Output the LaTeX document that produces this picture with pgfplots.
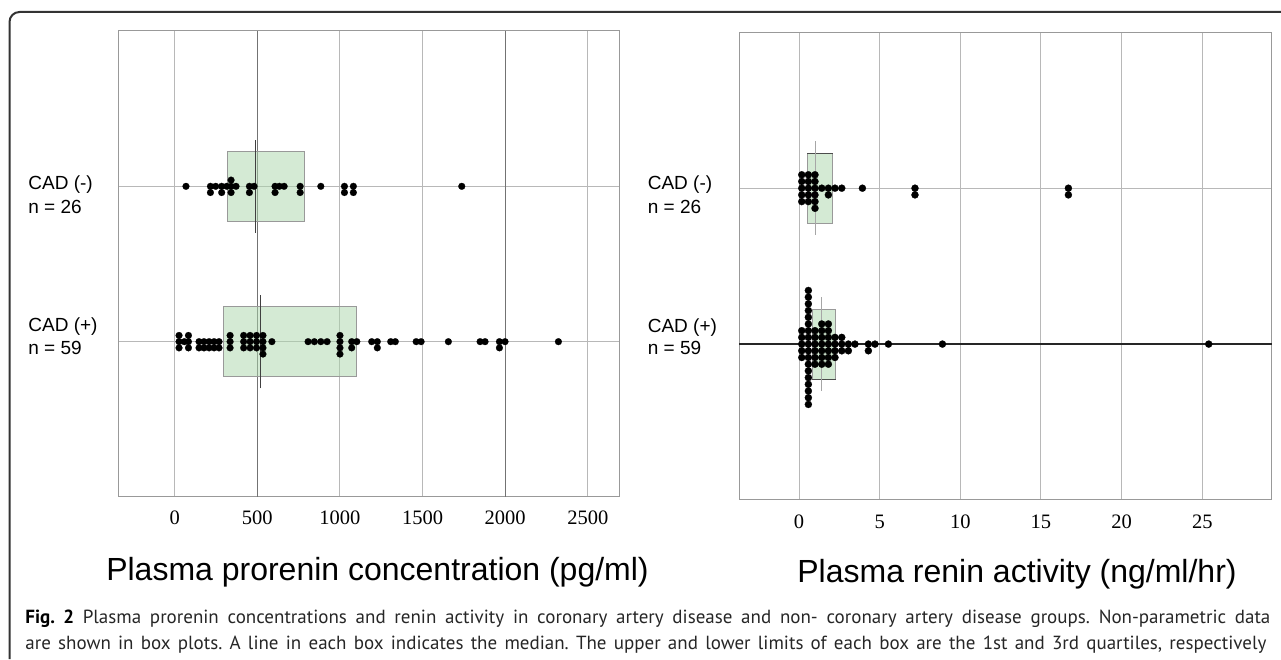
\documentclass[border=0pt]{standalone}
\usepackage{fontspec}
\setmainfont{Liberation Sans}
\newfontfamily\tickfont{Liberation Serif}
\newfontfamily\capfont{PT Sans}
\usepackage{pgfplots}
\pgfplotsset{compat=1.18}
\definecolor{boxgreen}{RGB}{169,213,169}
\pgfplotsset{
  panel/.style={
    scale only axis, ymin=0, ymax=3, ytick={1,2}, yticklabels={},
    xmajorgrids, ymajorgrids,
    grid style={black!28, line width=0.5bp},
    axis line style={black!40, line width=0.5bp},
    major tick length=0pt,
    tick style={draw=none},
    xticklabel style={font=\tickfont\fontsize{10.25bp}{12bp}\selectfont, anchor=base, text=black},
    /pgf/number format/assume math mode=true,
    /pgf/number format/1000 sep={},
    scaled x ticks=false,
    clip=false,
  },
  boxst/.style={draw=black!40, line width=0.5bp, fill=boxgreen, fill opacity=0.5},
  dots/.style={only marks, mark=*, mark size=#1, mark options={solid, fill=black, draw=black, line width=0.1bp}},
}
\frenchspacing
\begin{document}
\begin{tikzpicture}[x=0.5bp,y=0.5bp]
\path[use as bounding box] (0,0) rectangle (1281,659);

% ---------- left panel ----------
\begin{axis}[panel, at={(59.2bp,81bp)}, anchor=south west, width=250.4bp, height=233bp,
  xmin=-341, xmax=2690, xtick={0,1000,1500,2500},
  extra x ticks={500,2000}, extra x tick style={major grid style={black!55, line width=0.6bp}},
  xticklabel style={yshift=-14bp}]
\addplot[boxst] coordinates {(318,1.776) (786,1.776) (786,2.224) (318,2.224)} -- cycle;
\addplot[boxst] coordinates {(297,0.775) (1098,0.775) (1098,1.225) (297,1.225)} -- cycle;
\addplot[black!75, line width=0.6bp] coordinates {(489,1.70) (489,2.30)};
\addplot[black!75, line width=0.6bp] coordinates {(519,0.70) (519,1.30)};
% CAD (-)
\addplot[dots=1.7bp] coordinates {
(68,2)
(216,2) (216,1.96) (248,2)
(284,2) (284,1.96) (315,2) (341,2.04) (341,2) (341,1.96) (371,2)
(452,2) (452,1.96) (480,2)
(607,2) (607,1.96) (633,2) (662,2)
(759,2) (759,1.96)
(884,2)
(1027,2) (1027,1.96) (1081,2) (1081,1.96)
(1737,2)
};
% CAD (+)
\addplot[dots=1.7bp] coordinates {
(26,1.04) (26,1) (26,0.96)
(58,1)
(83,1.04) (83,1) (83,0.96)
(147,1) (147,0.96) (177,1) (177,0.96) (208,1) (208,0.96) (238,1) (238,0.96) (268,1) (268,0.96)
(335,1.04) (335,1) (335,0.96)
(417,1.04) (417,1) (417,0.96)
(456,1.04) (456,1) (456,0.96)
(495,1.04) (495,1) (495,0.96)
(534,1.04) (534,1) (534,0.96) (534,0.92)
(588,1)
(807,1) (845,1) (884,1) (922,1)
(1000,1.04) (1000,1) (1000,0.96) (1000,0.92)
(1071,1) (1071,0.96) (1102,1)
(1192,1) (1226,1) (1226,0.96)
(1307,1) (1335,1)
(1461,1) (1491,1)
(1656,1)
(1848,1) (1878,1)
(1965,1) (1965,0.96) (1999,1)
(2322,1)
};
\end{axis}

% ---------- right panel ----------
\begin{axis}[panel, at={(369.65bp,79.5bp)}, anchor=south west, width=266.15bp, height=233.85bp,
  xmin=-3.7, xmax=29.3, xtick={0,5,10,15,20,25}, ytick={2},
  extra y ticks={1}, extra y tick labels={}, extra y tick style={major grid style={black!85, line width=0.6bp}},
  xticklabel style={yshift=-14.5bp}]
\addplot[boxst] coordinates {(0.51,1.775) (2.09,1.775) (2.09,2.225) (0.51,2.225)} -- cycle;
\addplot[boxst] coordinates {(0.83,0.775) (2.27,0.775) (2.27,1.225) (0.83,1.225)} -- cycle;
\addplot[black!70, line width=0.6bp] coordinates {(0.51,2.225) (2.09,2.225)};
\addplot[black!70, line width=0.6bp] coordinates {(0.83,0.775) (2.27,0.775)};
\addplot[black!35, line width=0.5bp] coordinates {(1.03,1.70) (1.03,2.30)};
\addplot[black!35, line width=0.5bp] coordinates {(1.41,0.70) (1.41,1.30)};
% CAD (-)
\addplot[dots=1.78bp] coordinates {
(0.17,2.086) (0.17,2.043) (0.17,2) (0.17,1.957) (0.17,1.914)
(0.58,2.086) (0.58,2.043) (0.58,2) (0.58,1.957) (0.58,1.914)
(0.99,2.086) (0.99,2.043) (0.99,2) (0.99,1.957) (0.99,1.914) (0.99,1.871)
(1.41,2) (1.82,2) (1.82,1.957) (2.23,2) (2.65,2)
(3.93,2)
(7.19,2) (7.19,1.957)
(16.70,2) (16.70,1.957)
};
% CAD (+)
\addplot[dots=1.78bp] coordinates {
(0.17,1.086) (0.17,1.043) (0.17,1) (0.17,0.957) (0.17,0.914)
(0.58,1.344) (0.58,1.301) (0.58,1.258) (0.58,1.215) (0.58,1.172) (0.58,1.129) (0.58,1.086) (0.58,1.043) (0.58,1)
(0.58,0.957) (0.58,0.914) (0.58,0.871) (0.58,0.828) (0.58,0.785) (0.58,0.742) (0.58,0.699) (0.58,0.656) (0.58,0.613)
(0.99,1.086) (0.99,1.043) (0.99,1) (0.99,0.957) (0.99,0.914) (0.99,0.871)
(1.41,1.129) (1.41,1.086) (1.41,1.043) (1.41,1) (1.41,0.957) (1.41,0.914) (1.41,0.871)
(1.82,1.129) (1.82,1.086) (1.82,1.043) (1.82,1) (1.82,0.957) (1.82,0.914) (1.82,0.871)
(2.23,1.043) (2.23,1) (2.23,0.957) (2.23,0.914)
(2.65,1.043) (2.65,1) (2.65,0.957)
(3.06,1) (3.06,0.957)
(3.47,1)
(4.30,1) (4.30,0.957)
(4.71,1)
(5.54,1)
(8.89,1)
(25.40,1)
};
\end{axis}

% ---------- labels ----------
\begin{scope}[every node/.style={anchor=base west, inner sep=0pt, font=\fontsize{9.5bp}{11bp}\selectfont}]
\node at (28,469.7) {CAD (-)};
\node at (28,445.7) {n = 26};
\node at (28,327) {CAD (+)};
\node at (28,304) {n = 59};
\node at (647.4,469.7) {CAD (-)};
\node at (647.4,445.7) {n = 26};
\node at (647.4,326) {CAD (+)};
\node at (647.4,304) {n = 59};
\end{scope}
\node[anchor=base, inner sep=0pt, font=\fontsize{16bp}{19bp}\selectfont] at (377.5,79) {Plasma prorenin concentration (pg/ml)};
\node[anchor=base, inner sep=0pt, font=\fontsize{16bp}{19bp}\selectfont] at (1017,77) {Plasma renin activity (ng/ml/hr)};

% ---------- caption ----------
\begin{scope}[every node/.style={anchor=base west, inner sep=0pt, text=black!85, font=\capfont\fontsize{9.5bp}{11bp}\selectfont}]
\node at (25,35.7) {\makebox[622.5bp][s]{{\color{black}\bfseries Fig. 2} Plasma prorenin concentrations and renin activity in coronary artery disease and non- coronary artery disease groups. Non-parametric data}};
\node at (25,9.5) {\makebox[620.5bp][s]{are shown in box plots. A line in each box indicates the median. The upper and lower limits of each box are the 1st and 3rd quartiles, respectively}};
\end{scope}

% ---------- frame ----------
\draw[black!80, line width=1bp, rounded corners=5bp] (9.5,0) -- (9.5,647) -- (1281,647);
\end{tikzpicture}
\end{document}
